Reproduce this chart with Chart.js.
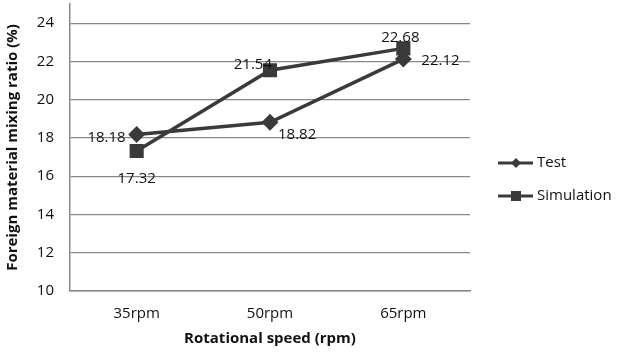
<!DOCTYPE html>
<html>
<head>
<meta charset="utf-8">
<script src="https://cdn.jsdelivr.net/npm/chart.js@4/dist/chart.umd.min.js"></script>
<style>
  html, body { margin: 0; padding: 0; background: #fff; }
  #wrap { width: 625px; height: 352px; }
</style>
</head>
<body>
<div id="wrap"><canvas id="mixChart"></canvas></div>
<script>
const categories = ['35rpm', '50rpm', '65rpm']
const testValues = [18.18, 18.82, 22.12]
const simValues = [17.32, 21.54, 22.68]
const yTicks = [10, 12, 14, 16, 18, 20, 22, 24]

const lineColor = '#3a3a3a'
const font = '"Open Sans", sans-serif'

// label offsets per point (dx, dy, align)
const labelPos = {
  0: [[-11, 3, 'right'], [8, 12, 'left'], [18, 2, 'left']],
  1: [[0, 28, 'center'], [2, -5, 'right'], [-3, -11, 'center']]
}

const valueLabels = {
  id: 'valueLabels',
  afterDatasetsDraw(chart) {
    const ctx = chart.ctx
    ctx.save()
    ctx.font = '15px ' + font
    ctx.fillStyle = '#111'
    ctx.textBaseline = 'middle'
    chart.data.datasets.forEach((ds, i) => {
      chart.getDatasetMeta(i).data.forEach((pt, j) => {
        const [dx, dy, align] = labelPos[i][j]
        ctx.textAlign = align
        ctx.fillText(ds.data[j].toFixed(2), pt.x + dx, pt.y + dy)
      })
    })
    ctx.restore()
  }
}

const sideLegend = {
  id: 'sideLegend',
  afterDraw(chart) {
    const ctx = chart.ctx
    ctx.save()
    const rows = [163, 196]
    chart.data.datasets.forEach((ds, i) => {
      const y = rows[i]
      ctx.strokeStyle = lineColor
      ctx.lineWidth = 3
      ctx.beginPath()
      ctx.moveTo(498, y)
      ctx.lineTo(533, y)
      ctx.stroke()
      ctx.fillStyle = lineColor
      ctx.beginPath()
      if (ds.pointStyle === 'rectRot') {
        ctx.moveTo(516, y - 5); ctx.lineTo(521, y); ctx.lineTo(516, y + 5); ctx.lineTo(511, y)
      } else {
        ctx.rect(511, y - 5, 10, 10)
      }
      ctx.closePath()
      ctx.fill()
      ctx.fillStyle = '#111'
      ctx.font = '15px ' + font
      ctx.textAlign = 'left'
      ctx.textBaseline = 'middle'
      ctx.fillText(ds.label, 537, y)
    })
    ctx.restore()
  }
}

new Chart(document.getElementById('mixChart'), {
  type: 'line',
  data: {
    labels: categories,
    datasets: [
      {
        label: 'Test',
        data: testValues,
        borderColor: lineColor,
        backgroundColor: lineColor,
        borderWidth: 3.5,
        pointStyle: 'rectRot',
        pointRadius: 6,
        pointHoverRadius: 6,
        tension: 0
      },
      {
        label: 'Simulation',
        data: simValues,
        borderColor: lineColor,
        backgroundColor: lineColor,
        borderWidth: 3.5,
        pointStyle: 'rect',
        pointRadius: 7.5,
        pointHoverRadius: 7.5,
        tension: 0
      }
    ]
  },
  options: {
    responsive: true,
    maintainAspectRatio: false,
    animation: false,
    layout: { autoPadding: false, padding: { left: 0, right: 155, top: 4, bottom: 0 } },
    plugins: {
      legend: { display: false },
      tooltip: { enabled: false }
    },
    scales: {
      x: {
        offset: true,
        grid: { display: false, drawTicks: false },
        border: { color: '#888', width: 1.5 },
        ticks: { color: '#111', font: { family: font, size: 15 }, padding: 14 },
        title: {
          display: true,
          text: 'Rotational speed (rpm)',
          color: '#111',
          font: { family: font, size: 15, weight: 'bold' },
          padding: { top: 4 }
        },
        afterFit(scale) {
          scale.height = 61
          scale.paddingLeft = 0
          scale.paddingRight = 0
        }
      },
      y: {
        min: 10,
        max: 25,
        afterBuildTicks(scale) {
          scale.ticks = yTicks.map(v => ({ value: v }))
        },
        grid: { color: '#888', lineWidth: 1.2, drawTicks: false },
        border: { color: '#888', width: 1.5 },
        ticks: { color: '#111', font: { family: font, size: 15 }, padding: 16 },
        title: {
          display: true,
          text: 'Foreign material mixing ratio (%)',
          color: '#111',
          font: { family: font, size: 15, weight: 'bold' },
          padding: { bottom: 2 }
        },
        afterFit(scale) {
          scale.width = 70
          scale.paddingTop = 0
          scale.paddingBottom = 0
        }
      }
    }
  },
  plugins: [valueLabels, sideLegend]
})
</script>
</body>
</html>
